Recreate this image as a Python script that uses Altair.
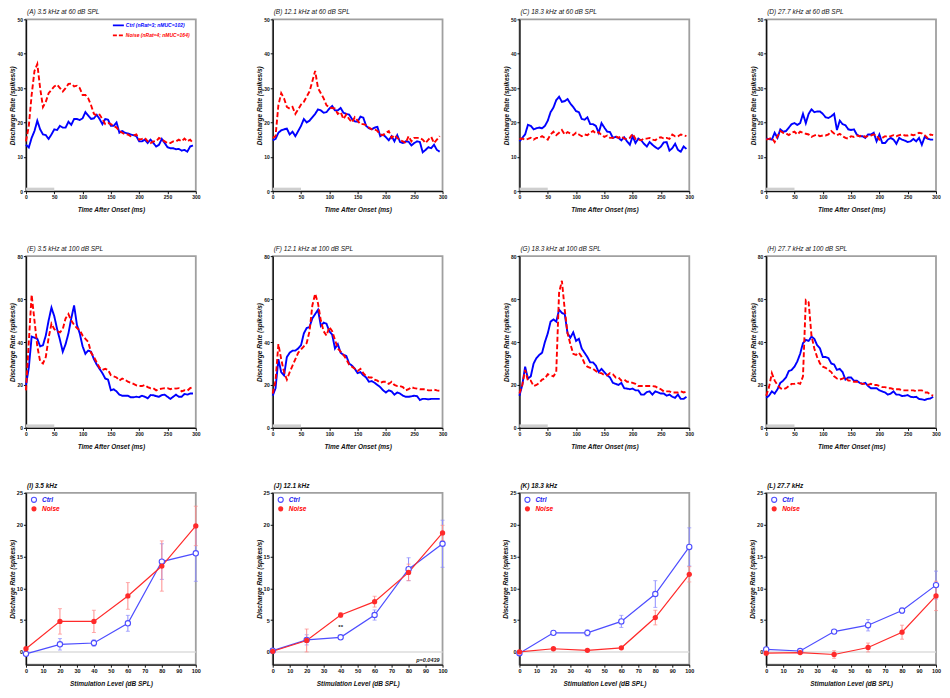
import altair as alt
import pandas as pd

FONT = "Liberation Sans"
CTRL = "#0000ff"
NOISE = "#ff0000"
CTRL_L = "#4d4dff"
NOISE_L = "#ff2a2a"
CTRL_E = "#8c8cff"
NOISE_E = "#ff8c8c"

W = 170
H = 172

time_ms = list(range(0, 300, 5))

A_ctrl = [13.5, 12.7, 15.5, 17.5, 20.5, 18, 16.5, 16.3, 15.2, 16.5,
          18, 17.8, 19, 18.5, 18.5, 20.2, 19.3, 21, 21, 20.7,
          21.2, 23, 22, 21, 21.2, 22.2, 21, 19.5, 21, 20.8,
          19, 19, 20, 17, 17.5, 17, 16.8, 16.5, 16.3, 16,
          14.5, 14.5, 15, 14, 15, 14, 13, 13.5, 15.2, 14,
          12.8, 12.5, 12.5, 12.2, 12.3, 11.8, 12, 11.5, 13, 13.3]
A_noise = [14.5, 19, 28, 35, 37, 30, 24.5, 26, 28.5, 29.5,
           30.5, 31, 30, 29, 30, 31.2, 31.3, 30.5, 30.7, 30,
           28, 28, 27, 25, 22.5, 22, 22.3, 21, 19.5, 19.8,
           19.5, 19, 18.5, 17.5, 17, 16.5, 16.5, 16, 16.2, 16.5,
           15, 15.2, 15.5, 14.5, 14, 14.5, 14.5, 15.5, 15, 14.5,
           14, 14, 14.5, 14.5, 15, 14.5, 15.3, 14.5, 15, 14]
B_ctrl = [14.8, 15.2, 17, 17.7, 18, 18.2, 16.5, 17.3, 16, 17.5,
          19, 21, 20, 20.5, 21.5, 22.5, 23.8, 23.5, 22.8, 23,
          24, 24.8, 23.5, 23.5, 24.2, 22.8, 22.5, 22.3, 21, 20.3,
          20.2, 21.7, 21.4, 19, 18.3, 18, 18.5, 18.7, 16, 16.5,
          15.7, 14.8, 16, 14.5, 16.3, 14.3, 14, 14.5, 14.4, 13.3,
          14, 14.5, 14.3, 11.3, 12, 12.8, 12.5, 13.5, 12, 11.5]
B_noise = [15.5, 16, 25, 28.5, 27, 24.5, 24, 24.5, 22.5, 23.8,
           25.2, 26, 27.5, 29, 32, 35, 30, 28.5, 27, 25,
           24.3, 24.2, 24, 22.5, 23, 21, 22.3, 21, 20, 21.5,
           20.5, 19.5, 19.5, 19.2, 18.5, 18, 18, 17.5, 16.5, 16.3,
           17, 17.5, 15.5, 16.3, 15.5, 14.8, 14.5, 14, 16, 14.5,
           15.5, 15.5, 15.5, 15, 14, 15, 15.8, 14, 15, 16]
C_ctrl = [14.5, 15.5, 16.5, 19.3, 19, 18, 18.3, 18.5, 18.3, 19,
          20.5, 23, 24.3, 26.5, 27.5, 26, 26.2, 26.8, 25.5, 24.5,
          23.3, 23, 21, 20.8, 21.5, 19.5, 19.5, 19, 17, 19.8,
          18.5, 17.3, 17.2, 15.5, 15.8, 15.5, 14.8, 15.7, 14.5, 13.5,
          16, 14, 15.3, 14.8, 13.8, 13, 14.3, 13.5, 12.8, 12.3,
          13, 14.2, 14.3, 11.8, 12.5, 13.8, 12, 11.5, 13, 12.3]
C_noise = [15.2, 15.3, 15, 15.2, 15.5, 15, 15.5, 15.5, 16, 15.5,
           15, 16.5, 17.3, 16.3, 17, 17.8, 16.5, 17.2, 16.8, 16.3,
           17, 16.5, 16, 16.5, 16.3, 17, 17.5, 16.8, 17.2, 16.3,
           15.8, 16.2, 15.5, 15.5, 16, 15.5, 16, 15.3, 15.2, 15.5,
           16.7, 15.2, 15, 14.8, 15.3, 15.3, 15.5, 15, 14.8, 15.5,
           15.7, 15.3, 15.5, 15.2, 16.5, 16, 16, 16.5, 16.3, 16]
D_ctrl = [15.3, 15.2, 15, 17, 15.5, 18, 17.3, 17.5, 18.5, 19.5,
          19.8, 19.3, 19.8, 22.5, 19.8, 22.5, 23.8, 23, 23.2, 23.2,
          22.5, 21.5, 21.3, 21.8, 22.5, 17.8, 20.5, 19.5, 19.2, 18,
          17.8, 18, 16.5, 16, 16, 15.5, 16.5, 16.5, 17, 14.5,
          16.5, 14, 14, 15, 15.5, 15, 13.8, 15.5, 15, 14.7,
          14.3, 14.5, 15.2, 14.5, 15.5, 13.5, 15.8, 15.3, 15, 15]
D_noise = [15, 15.2, 15.5, 14.3, 16, 17.5, 17, 16.8, 16.3, 17,
           17.3, 16.5, 17.3, 17, 16.7, 16.5, 15.8, 16.2, 16.5, 16,
           16.2, 16.2, 16.5, 17.5, 16.8, 16.3, 16.7, 16, 15.5, 15.3,
           16, 15.8, 16.2, 16, 16.3, 15.8, 16, 16.2, 16.5, 16.3,
           15, 15.5, 16, 15.8, 16, 16.3, 16, 16.3, 16.5, 16.2,
           16.2, 16.5, 16.3, 16.5, 17, 16.8, 16.3, 15.5, 16.5, 16.3]
E_ctrl = [20, 28, 42.5, 42, 41.5, 38, 38.5, 43, 50, 56,
          52, 46, 41, 35.5, 39, 44, 51, 57, 48, 44,
          38, 34.5, 36, 35.5, 32, 29.5, 27.5, 25.5, 23, 22.5,
          17.5, 18, 17, 15.5, 15, 15, 15, 14.3, 14.3, 14.5,
          14.3, 15, 14.5, 13.8, 15.3, 15.2, 14.8, 14.5, 15.3, 15.5,
          14.5, 13.5, 14.5, 15.5, 14.5, 14.5, 15.8, 15.5, 16, 16]
E_noise = [17.5, 40, 62, 50, 38, 31, 30, 33, 42, 48.5,
           46, 45, 44.5, 46, 51, 53, 50, 48, 46.5, 45.5,
           43, 41.5, 40, 35, 33, 30.5, 28, 27, 27.5, 27,
           24.5, 24, 23.5, 22, 23, 22.5, 21.5, 21, 20.5, 19.8,
           19.5, 19.5, 20, 19, 18.5, 18.5, 17.5, 18, 18.3, 18.5,
           18.5, 18, 18.5, 18.3, 18.5, 17, 17.5, 17.3, 18.5, 19]
F_ctrl = [15, 18.5, 32, 26, 24.5, 33, 35, 36, 36, 37,
          38.5, 44, 46.5, 47, 51, 53, 55, 47.5, 49, 48.5,
          45, 43.5, 37, 39, 35, 34, 33.5, 30, 29, 27.5,
          25.5, 26, 24.5, 23.5, 21.5, 21.8, 21, 20, 19, 17.5,
          16.5, 17.5, 17, 15.5, 16.5, 16, 15, 14.5, 14.5, 14.7,
          15, 14.8, 13, 13.5, 13.5, 13.3, 13.5, 13.5, 13.5, 13.5]
F_noise = [16, 22, 39, 32, 26, 22.5, 26, 29, 32, 35,
           36.5, 38, 39.5, 45, 57, 62.5, 58, 50, 45, 43,
           47, 45, 41, 37, 35.5, 34, 32, 29.5, 28.5, 27.5,
           26.5, 27.5, 25.5, 24, 23.5, 23.5, 22.5, 22, 21, 21.5,
           21.5, 20.5, 21.5, 20, 19.5, 19.5, 19, 17.5, 18, 19,
           18.5, 18.3, 18, 18, 18, 17.5, 17.5, 17.8, 17.5, 17.3]
G_ctrl = [15, 20, 28.5, 23, 24, 30, 32.5, 34, 35, 40,
          44, 49.5, 50.5, 49.5, 55, 53.5, 53, 44, 42, 44.5,
          40.5, 41.5, 37, 35, 33, 30.5, 30.5, 29, 26, 27.5,
          26, 24.5, 23.5, 21, 20.5, 20, 21, 18.5, 18.3, 18,
          18.3, 17.5, 17.5, 15.5, 15.5, 16.7, 17, 15.5, 17, 16.5,
          16, 16, 15, 15.5, 14.5, 14, 15.5, 13.5, 13.5, 14.5]
G_noise = [16, 20, 27, 22, 22, 19.5, 20, 21, 22.5, 23,
           25, 24.5, 24, 26, 63, 68.5, 55, 44, 39, 34.5,
           34, 35, 33, 30, 28.5, 28, 27.5, 26.5, 25.5, 25.5,
           24.5, 24.5, 25.5, 25, 23.5, 23.5, 22, 22.5, 21.5, 21.5,
           21, 20.5, 19.5, 19.5, 19.5, 19.5, 19.5, 19.5, 19.3, 18.5,
           18, 17, 17, 17, 16.5, 16.5, 16.5, 17, 16.5, 17]
H_ctrl = [14, 15, 17, 16, 18, 21, 22, 23.5, 26.5, 27,
          28.5, 31, 34.5, 39.5, 41, 40.5, 42.5, 41.5, 38.5, 37,
          33, 33, 32.5, 30, 29.5, 27, 27.5, 26, 22.5, 23.5,
          23.5, 22, 22, 21, 20.5, 21, 19.5, 18.5, 18.5, 18.5,
          17.5, 17, 16.5, 15.5, 16, 17, 15.5, 15.5, 14.8, 15,
          15.3, 14.5, 14.3, 14.5, 13.5, 13.3, 13, 13.5, 13.7, 14.5]
H_noise = [15, 19, 25.5, 22, 20, 18.5, 18, 18.5, 19.5, 20.5,
           20.5, 21, 20.5, 24, 59.5, 58.5, 43, 37, 33, 30,
           28.5, 28, 27, 26, 24, 23, 22.5, 23, 23.5, 22,
           22, 21.5, 21.5, 21, 20.5, 20.5, 20, 20.5, 20, 20,
           19.5, 19, 19, 18.5, 18.5, 18, 18, 18, 17.5, 17.5,
           17.5, 17.5, 17.5, 17, 17.5, 17.5, 16.5, 16.5, 15.5, 15]

levels = [0, 20, 40, 60, 80, 100]
I_ctrl = [-0.3, 1.2, 1.4, 4.5, 14.2, 15.5]
I_ctrl_err = [0.2, 0.9, 0.5, 1.25, 2.8, 4.4]
I_noise = [0.5, 4.8, 4.8, 8.8, 13.5, 19.8]
I_noise_err = [0.2, 2.0, 1.75, 2.1, 3.95, 3.1]
J_ctrl = [0.2, 1.9, 2.3, 5.8, 13.0, 17.0]
J_ctrl_err = [0.2, 0.8, 0.2, 0.8, 1.8, 3.7]
J_noise = [0.1, 1.8, 5.8, 7.9, 12.5, 18.7]
J_noise_err = [0.1, 1.8, 0.4, 0.85, 1.3, 1.2]
K_ctrl = [-0.2, 3.0, 3.0, 4.8, 9.1, 16.5]
K_ctrl_err = [0.1, 0.2, 0.5, 0.95, 2.1, 3.0]
K_noise = [0.0, 0.5, 0.25, 0.65, 5.4, 12.2]
K_noise_err = [0.1, 0.15, 0.15, 0.2, 1.15, 1.2]
L_ctrl = [0.4, 0.15, 3.2, 4.2, 6.5, 10.5]
L_ctrl_err = [0.15, 0.2, 0.2, 0.9, 0.45, 2.2]
L_noise = [-0.2, -0.1, -0.4, 0.7, 3.1, 8.8]
L_noise_err = [0.15, 0.15, 0.6, 0.7, 1.1, 2.3]

psth_titles = ["(A) 3.5 kHz at 60 dB SPL", "(B) 12.1 kHz at 60 dB SPL",
               "(C) 18.3 kHz at 60 dB SPL", "(D) 27.7 kHz at 60 dB SPL",
               "(E) 3.5 kHz at 100 dB SPL", "(F) 12.1 kHz at 100 dB SPL",
               "(G) 18.3 kHz at 100 dB SPL", "(H) 27.7 kHz at 100 dB SPL"]
level_titles = ["(I) 3.5 kHz", "(J) 12.1 kHz", "(K) 18.3 kHz", "(L) 27.7 kHz"]
psth_legend = ["Ctrl (nRat=3; nMUC=102)", "Noise (nRat=4; nMUC=164)"]
level_legend = ["Ctrl", "Noise"]
stim_window = [0, 50]
sig_x = [40]
sig_y = [3.9]
sig_text = ["**"]
p_text = ["p=0.0439"]


def panel_title(text, weight):
    return alt.Chart(pd.DataFrame({"title": [text]})).mark_text(
        align="left", baseline="bottom", font=FONT, fontSize=6.5, fontStyle="italic",
        fontWeight=weight, color="#111111").encode(x=alt.value(1), y=alt.value(-4), text="title:N")


def psth_panel(title, ctrl, noise, ymax, ystep, legend=False):
    n = len(time_ms)
    df = pd.DataFrame({"t": time_ms + time_ms, "rate": ctrl + noise,
                       "group": ["Ctrl"] * n + ["Noise"] * n})
    xs = alt.Scale(domain=[0, 300], nice=False, zero=False)
    ys = alt.Scale(domain=[0, ymax], nice=False)
    xax = alt.Axis(values=list(range(0, 301, 50)), title="Time After Onset (ms)")
    yax = alt.Axis(values=list(range(0, ymax + 1, ystep)), title="Discharge Rate (spikes/s)")
    stim_df = pd.DataFrame({"s": [stim_window[0]], "e": [stim_window[1]], "z": [0]})
    stim = alt.Chart(stim_df).mark_rule(color="#cfcfcf", strokeWidth=3, yOffset=-2).encode(
        x=alt.X("s:Q", scale=xs, axis=xax), x2="e:Q",
        y=alt.Y("z:Q", scale=ys, axis=yax))
    lines = alt.Chart(df).mark_line(strokeWidth=1.9).encode(
        x=alt.X("t:Q", scale=xs, axis=xax),
        y=alt.Y("rate:Q", scale=ys, axis=yax),
        color=alt.Color("group:N", scale=alt.Scale(domain=["Ctrl", "Noise"], range=[CTRL, NOISE]), legend=None),
        strokeDash=alt.StrokeDash("group:N", scale=alt.Scale(domain=["Ctrl", "Noise"], range=[[1, 0], [5, 2.5]]), legend=None),
    )
    layers = [stim, lines, panel_title(title, "normal")]
    if legend:
        for label, color, dash, yy in [(psth_legend[0], CTRL, [1, 0], 6), (psth_legend[1], NOISE, [4, 2], 16)]:
            d = pd.DataFrame({"label": [label]})
            layers.append(alt.Chart(d).mark_rule(color=color, strokeWidth=1.8, strokeDash=dash).encode(
                x=alt.value(87), x2=alt.value(98), y=alt.value(yy)))
            layers.append(alt.Chart(d).mark_text(align="left", baseline="middle", font=FONT, fontSize=5,
                                                 fontStyle="italic", fontWeight="bold", color=color).encode(
                x=alt.value(100), y=alt.value(yy), text="label:N"))
    return alt.layer(*layers).properties(width=W, height=H)


def level_panel(title, cm, ce, nm, ne, annotate=False):
    xs = alt.Scale(domain=[0, 100], nice=False)
    ys = alt.Scale(domain=[-2, 25], nice=False)
    xax = alt.Axis(values=list(range(0, 101, 10)), title="Stimulation Level (dB SPL)", labelFontSize=5.5)
    yax = alt.Axis(values=list(range(0, 26, 5)), title="Discharge Rate (spikes/s)", labelFontSize=5.5)

    def X(f):
        return alt.X(f, scale=xs, axis=xax)

    def Y(f):
        return alt.Y(f, scale=ys, axis=yax)

    zero = alt.Chart(pd.DataFrame({"z": [0]})).mark_rule(color="#dcdcdc", strokeWidth=1.5).encode(y=Y("z:Q"))
    layers = [zero]
    groups = []
    for m, e, lc, ec in [(cm, ce, CTRL_L, CTRL_E), (nm, ne, NOISE_L, NOISE_E)]:
        df = pd.DataFrame({"level": levels, "m": m,
                           "lo": [a - b for a, b in zip(m, e)],
                           "hi": [a + b for a, b in zip(m, e)]})
        groups.append((df, lc))
        layers.append(alt.Chart(df).mark_rule(color=ec, strokeWidth=1).encode(
            x=X("level:Q"), y=Y("lo:Q"), y2="hi:Q"))
        for f in ["lo:Q", "hi:Q"]:
            layers.append(alt.Chart(df).mark_tick(color=ec, orient="horizontal", size=4, thickness=1).encode(
                x=X("level:Q"), y=Y(f)))
    for df, lc in groups:
        layers.append(alt.Chart(df).mark_line(color=lc, strokeWidth=1.2).encode(x=X("level:Q"), y=Y("m:Q")))
    (dfc, _), (dfn, _) = groups
    layers.append(alt.Chart(dfc).mark_point(shape="circle", size=28, fill="white", fillOpacity=1,
                                             stroke=CTRL_L, strokeWidth=1.1, opacity=1).encode(
        x=X("level:Q"), y=Y("m:Q")))
    layers.append(alt.Chart(dfn).mark_circle(size=28, color=NOISE_L, opacity=1).encode(
        x=X("level:Q"), y=Y("m:Q")))
    lc_df = pd.DataFrame({"label": [level_legend[0]]})
    ln_df = pd.DataFrame({"label": [level_legend[1]]})
    layers.append(alt.Chart(lc_df).mark_point(shape="circle", size=26, fill="white", fillOpacity=1,
                                               stroke=CTRL_L, strokeWidth=1.1, opacity=1).encode(
        x=alt.value(8), y=alt.value(7)))
    layers.append(alt.Chart(ln_df).mark_circle(size=26, color=NOISE_L, opacity=1).encode(
        x=alt.value(8), y=alt.value(16)))
    layers.append(alt.Chart(lc_df).mark_text(align="left", baseline="middle", font=FONT, fontSize=6.5,
                                              fontStyle="italic", fontWeight="bold", color="#2020ee").encode(
        x=alt.value(16), y=alt.value(7), text="label:N"))
    layers.append(alt.Chart(ln_df).mark_text(align="left", baseline="middle", font=FONT, fontSize=6.5,
                                              fontStyle="italic", fontWeight="bold", color=NOISE).encode(
        x=alt.value(16), y=alt.value(16), text="label:N"))
    if annotate:
        sdf = pd.DataFrame({"x": sig_x, "y": sig_y, "text": sig_text})
        layers.append(alt.Chart(sdf).mark_text(font=FONT, fontSize=6, fontWeight="bold", color="#222").encode(
            x=X("x:Q"), y=Y("y:Q"), text="text:N"))
        pdf = pd.DataFrame({"text": p_text})
        layers.append(alt.Chart(pdf).mark_text(align="right", baseline="bottom", font=FONT, fontSize=5.5,
                                               fontStyle="italic", fontWeight="bold", color="#222").encode(
            x=alt.value(W - 3), y=alt.value(H - 2), text="text:N"))
    layers.append(panel_title(title, "bold"))
    return alt.layer(*layers).properties(width=W, height=H)


row1 = [psth_panel(psth_titles[0], A_ctrl, A_noise, 50, 10, legend=True),
        psth_panel(psth_titles[1], B_ctrl, B_noise, 50, 10),
        psth_panel(psth_titles[2], C_ctrl, C_noise, 50, 10),
        psth_panel(psth_titles[3], D_ctrl, D_noise, 50, 10)]
row2 = [psth_panel(psth_titles[4], E_ctrl, E_noise, 80, 20),
        psth_panel(psth_titles[5], F_ctrl, F_noise, 80, 20),
        psth_panel(psth_titles[6], G_ctrl, G_noise, 80, 20),
        psth_panel(psth_titles[7], H_ctrl, H_noise, 80, 20)]
row3 = [level_panel(level_titles[0], I_ctrl, I_ctrl_err, I_noise, I_noise_err),
        level_panel(level_titles[1], J_ctrl, J_ctrl_err, J_noise, J_noise_err, annotate=True),
        level_panel(level_titles[2], K_ctrl, K_ctrl_err, K_noise, K_noise_err),
        level_panel(level_titles[3], L_ctrl, L_ctrl_err, L_noise, L_noise_err)]

chart = alt.concat(*(row1 + row2 + row3), columns=4, bounds="flush",
                   spacing={"row": 65, "column": 77}).properties(
    padding={"left": 0, "top": 0, "right": 0, "bottom": 0}
).configure_view(
    stroke="#a0a0a0", strokeWidth=1.8
).configure_axis(
    grid=False, domainColor="#111111", domainWidth=1.4, tickColor="#111111", tickWidth=1, tickSize=2.5,
    labelFont=FONT, labelFontSize=5, labelFontWeight="bold", labelColor="#111111", labelPadding=1,
    labelFlush=False, titleFont=FONT, titleFontSize=6.5, titleFontWeight="bold", titleFontStyle="italic",
    titleColor="#111111"
).configure_axisX(titlePadding=7).configure_axisY(titlePadding=1)

chart.save("out.html", embed_options={"renderer": "svg", "actions": False})
